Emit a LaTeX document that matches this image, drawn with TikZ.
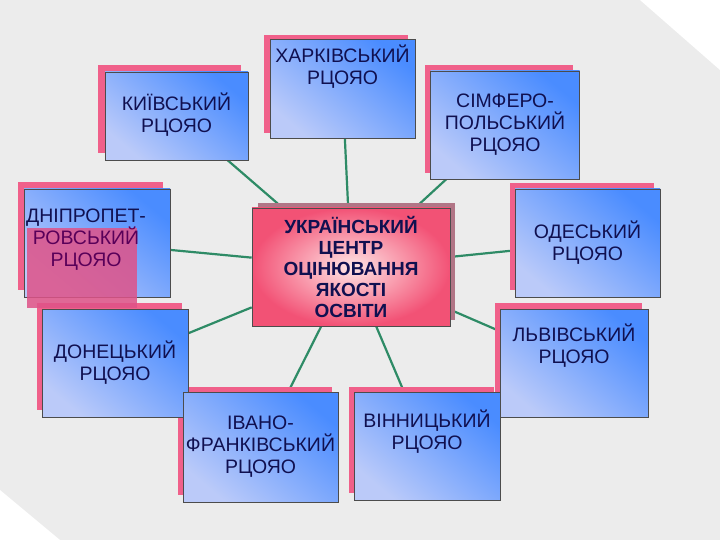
\documentclass[tikz,border=0pt]{standalone}
\usepackage{fontspec}
\setmainfont{Liberation Sans}
\usetikzlibrary{backgrounds}
\pgfdeclarelayer{bottom}
\pgfsetlayers{bottom,background,main}
\definecolor{bgc}{HTML}{ECECEC}
\definecolor{ln}{HTML}{2E8B66}
\definecolor{txt}{HTML}{101050}
\definecolor{shd}{HTML}{F0608A}
\definecolor{bl}{HTML}{4A8CFF}
\definecolor{pw}{HTML}{F8ECF6}
\begin{document}
\begin{tikzpicture}[x=1pt,y=-1pt,
 rbox/.style={draw=black!70,line width=0.6pt,shading=axis,top color=bl,middle color=pw,bottom color=bl!35!pw,shading angle=-40,
   minimum width=145pt,minimum height=105pt,align=center,text=txt,font=\fontsize{19.5}{22}\selectfont,inner sep=1pt},
 sh/.style={fill=shd},
 conn/.style={ln,line width=2.2pt}]
\begin{pgfonlayer}{bottom}
\fill[bgc] (0,0) rectangle (720,540);
\fill[white] (640,0) -- (720,0) -- (720,70) -- cycle;
\fill[white] (0,490) -- (0,540) -- (60,540) -- cycle;
\end{pgfonlayer}
\useasboundingbox (0,0) rectangle (720,540);
% shadows
\fill[sh] (98,65) rectangle (241,153);
\fill[sh] (264,35) rectangle (408,133);
\fill[sh] (425,65) rectangle (573,173);
\fill[sh] (18,182) rectangle (163,290);
\fill[sh] (510,183) rectangle (654,290);
\fill[sh] (37,303) rectangle (182,410);
\fill[sh] (495,303) rectangle (642,410);
\fill[sh] (178,387) rectangle (332,495);
\fill[sh] (349,387) rectangle (494,493);
\fill[fill=black!40!shd!70] (258,203) rectangle (455,320);
% nodes
\node[rbox,minimum width=143pt,minimum height=88pt] (kyiv) at (176.5,116) {\\[-8pt]КИЇВСЬКИЙ\\РЦОЯО};
\node[rbox,minimum width=145pt,minimum height=99pt] (khar) at (342.5,89) {ХАРКІВСЬКИЙ\\РЦОЯО\\[26pt]};
\node[rbox,minimum width=149pt,minimum height=108pt] (simf) at (505,125) {СІМФЕРО-\\ПОЛЬСЬКИЙ\\РЦОЯО};
\node[rbox,minimum width=146pt,minimum height=108pt] (dnip) at (97,243) {\phantom{X}\\[50pt]};
\fill[fill=shd!85!violet,opacity=0.85] (27,228) rectangle (137,308);
\node[align=center,font=\fontsize{19.5}{22}\selectfont] at (86,240) {\textcolor{txt}{ДНІПРОПЕТ-}\\\textcolor{violet!70!black}{РОВСЬКИЙ}\\\textcolor{violet!70!black}{РЦОЯО}};
\node[rbox,minimum width=145pt,minimum height=108pt] (odes) at (587.5,243) {ОДЕСЬКИЙ\\РЦОЯО};
\node[rbox,minimum width=146pt,minimum height=108pt] (done) at (115,363) {ДОНЕЦЬКИЙ\\РЦОЯО};
\node[rbox,minimum width=148pt,minimum height=108pt] (lviv) at (574,363) {ЛЬВІВСЬКИЙ\\РЦОЯО\\[16pt]};
\node[rbox,minimum width=155pt,minimum height=110pt] (ivan) at (260.5,447) {ІВАНО-\\ФРАНКІВСЬКИЙ\\РЦОЯО};
\node[rbox,minimum width=146pt,minimum height=108pt] (vinn) at (427,446) {ВІННИЦЬКИЙ\\РЦОЯО\\[10pt]};
\node[draw=black!70,line width=0.6pt,inner color=pink!40,outer color=shd!85!red,minimum width=198pt,minimum height=118pt,
  align=center,text=txt,inner sep=1pt,font=\bfseries\fontsize{19}{21}\selectfont] (ctr) at (351,267) {УКРАЇНСЬКИЙ\\ЦЕНТР\\ОЦІНЮВАННЯ\\ЯКОСТІ\\ОСВІТИ};
\begin{scope}[on background layer]
\foreach \n in {kyiv,khar,simf,dnip,odes,done,lviv,ivan,vinn} \draw[conn] (ctr) -- (\n);
\end{scope}
\end{tikzpicture}
\end{document}
